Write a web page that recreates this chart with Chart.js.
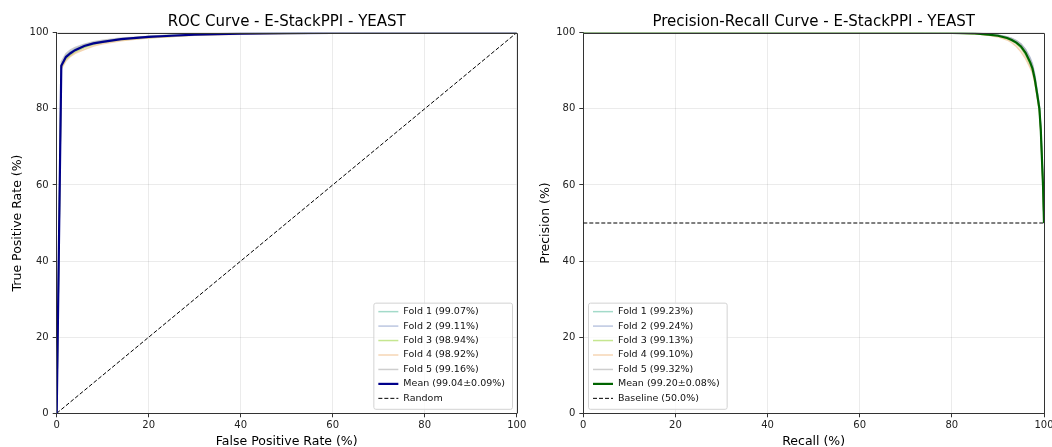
<!DOCTYPE html>
<html>
<head>
<meta charset="utf-8">
<script src="https://cdn.jsdelivr.net/npm/chart.js@4.4.1/dist/chart.umd.min.js"></script>
<style>
  html, body { margin: 0; padding: 0; background: #fff; overflow: hidden; }
  .panel { position: absolute; top: 0; width: 526px; height: 447px; }
</style>
</head>
<body>
<div class="panel" style="left:0"><canvas id="roc" width="526" height="447"></canvas></div>
<div class="panel" style="left:526px"><canvas id="pr" width="526" height="447"></canvas></div>
<script>
// ROC data (%), all folds read on a shared FPR grid
const rocFpr   = [0, 1, 2, 3, 4, 6, 8, 10, 14, 18, 20, 25, 30, 40, 50, 60, 80, 100];
const rocFold1 = [0, 91.0, 93.9, 94.9, 95.6, 96.6, 97.3, 97.7, 98.4, 98.8, 99.0, 99.3, 99.5, 99.8, 99.9, 99.95, 100, 100];
const rocFold2 = [0, 91.5, 94.0, 95.0, 95.7, 96.8, 97.4, 97.8, 98.4, 98.8, 99.0, 99.3, 99.6, 99.8, 99.9, 100, 100, 100];
const rocFold3 = [0, 90.8, 93.0, 94.1, 94.9, 96.1, 96.9, 97.4, 98.1, 98.5, 98.7, 99.0, 99.4, 99.7, 99.8, 99.9, 100, 100];
const rocFold4 = [0, 90.5, 92.6, 93.8, 94.6, 95.6, 96.5, 97.1, 97.9, 98.4, 98.6, 99.0, 99.3, 99.6, 99.8, 99.9, 100, 100];
const rocFold5 = [0, 92.4, 94.5, 95.5, 96.1, 97.0, 97.6, 98.0, 98.6, 98.9, 99.1, 99.4, 99.6, 99.8, 99.9, 100, 100, 100];
const rocMean  = [0, 91.3, 93.6, 94.6, 95.4, 96.5, 97.2, 97.6, 98.3, 98.7, 98.9, 99.2, 99.5, 99.75, 99.85, 99.95, 100, 100];
const rocUpper = [0, 92.2, 94.4, 95.4, 96.1, 97.0, 97.6, 98.0, 98.6, 99.0, 99.2, 99.4, 99.7, 99.9, 100, 100, 100, 100];
const rocLower = [0, 90.4, 92.8, 93.8, 94.7, 96.0, 96.8, 97.2, 98.0, 98.4, 98.6, 99.0, 99.3, 99.6, 99.7, 99.9, 100, 100];
const randomX  = [0, 100];
const randomY  = [0, 100];

// PR data (%)
const prRecall = [0, 10, 20, 30, 40, 50, 60, 70, 80, 85, 88, 90, 92, 93, 94, 95, 96, 97, 97.5, 98, 98.5, 99, 99.3, 99.6, 99.8, 100];
const prFold1  = [100, 100, 100, 100, 100, 100, 100, 100, 99.95, 99.8, 99.5, 99.3, 98.7, 98.2, 97.5, 96.5, 94.9, 92.4, 90.8, 88.0, 84.2, 80.2, 74.8, 65.8, 59.8, 50];
const prFold2  = [100, 100, 100, 100, 100, 100, 100, 100, 100, 99.85, 99.6, 99.4, 98.9, 98.5, 97.9, 97.0, 95.6, 93.4, 91.8, 89.0, 85.0, 80.8, 75.2, 66.0, 60.0, 50];
const prFold3  = [100, 100, 100, 100, 100, 100, 100, 100, 99.9, 99.75, 99.4, 99.1, 98.4, 97.9, 97.2, 96.0, 94.2, 91.6, 90.0, 87.2, 83.5, 79.6, 74.0, 65.0, 59.0, 50];
const prFold4  = [100, 100, 100, 100, 100, 100, 100, 100, 99.9, 99.7, 99.3, 98.9, 98.1, 97.4, 96.4, 95.0, 93.2, 90.8, 89.4, 86.8, 83.2, 79.4, 74.0, 65.0, 59.2, 50];
const prFold5  = [100, 100, 100, 100, 100, 100, 100, 100, 100, 99.9, 99.7, 99.4, 98.9, 98.5, 97.9, 97.0, 95.5, 93.0, 91.4, 88.5, 84.6, 80.6, 75.0, 66.0, 60.0, 50];
const prMean   = [100, 100, 100, 100, 100, 100, 100, 100, 99.95, 99.8, 99.5, 99.2, 98.6, 98.1, 97.4, 96.4, 94.7, 92.2, 90.6, 87.8, 84.0, 80.0, 74.5, 65.5, 59.5, 50];
const prUpper  = [100, 100, 100, 100, 100, 100, 100, 100, 100, 99.95, 99.75, 99.5, 99.0, 98.6, 98.0, 97.3, 95.9, 93.7, 92.0, 89.2, 85.2, 81.0, 75.6, 66.5, 60.5, 50];
const prLower  = [100, 100, 100, 100, 100, 100, 100, 100, 99.9, 99.65, 99.25, 98.9, 98.2, 97.6, 96.8, 95.5, 93.5, 90.7, 89.2, 86.4, 82.8, 79.0, 73.4, 64.5, 58.5, 50];
const baselineX = [0, 100];
const baselineY = [50, 50];

const rocLabels = ['Fold 1 (99.07%)', 'Fold 2 (99.11%)', 'Fold 3 (98.94%)', 'Fold 4 (98.92%)', 'Fold 5 (99.16%)', 'Mean (99.04\u00b10.09%)', 'Random'];
const prLabels  = ['Fold 1 (99.23%)', 'Fold 2 (99.24%)', 'Fold 3 (99.13%)', 'Fold 4 (99.10%)', 'Fold 5 (99.32%)', 'Mean (99.20\u00b10.08%)', 'Baseline (50.0%)'];
const tickValues = [0, 20, 40, 60, 80, 100];

const foldColors = ['rgba(102,194,165,0.6)', 'rgba(141,160,203,0.6)', 'rgba(166,216,84,0.65)', 'rgba(240,190,140,0.65)', 'rgba(179,179,179,0.65)'];
const FONT = "'DejaVu Sans', sans-serif";

function pts(xs, ys) {
  return xs.map((x, i) => ({ x: x, y: ys[i] }));
}

// legend drawn inside the plot area, matplotlib style
const innerLegend = {
  id: 'innerLegend',
  afterDraw(chart, args, opts) {
    const ctx = chart.ctx;
    const area = chart.chartArea;
    const items = chart.data.datasets.filter(d => d.label);
    const rowH = 14.45;
    ctx.save();
    ctx.font = '9.5px ' + FONT;
    let textW = 0;
    items.forEach(d => { textW = Math.max(textW, ctx.measureText(d.label).width); });
    const w = 30 + textW + 7;
    const h = rowH * items.length + 5;
    const left = opts.side === 'right' ? area.right - 4.7 - w : area.left + 4.7;
    const top = area.bottom - 4.5 - h;
    ctx.fillStyle = 'rgba(255,255,255,0.8)';
    ctx.strokeStyle = '#d3d3d3';
    ctx.lineWidth = 1;
    ctx.beginPath();
    ctx.roundRect(left + 0.5, top + 0.5, w, h, 2);
    ctx.fill();
    ctx.stroke();
    items.forEach((d, i) => {
      const y = top + 9 + i * rowH;
      ctx.beginPath();
      ctx.setLineDash(d.borderDash || []);
      ctx.strokeStyle = d.borderColor;
      ctx.lineWidth = d.borderWidth;
      ctx.moveTo(left + 5, y);
      ctx.lineTo(left + 25, y);
      ctx.stroke();
      ctx.setLineDash([]);
      ctx.fillStyle = '#111';
      ctx.textBaseline = 'middle';
      ctx.textAlign = 'left';
      ctx.fillText(d.label, left + 30, y);
    });
    ctx.restore();
  }
};

// top and right spines
const boxFrame = {
  id: 'boxFrame',
  afterDatasetsDraw(chart) {
    const ctx = chart.ctx;
    const a = chart.chartArea;
    ctx.save();
    ctx.strokeStyle = '#333';
    ctx.lineWidth = 1;
    ctx.beginPath();
    ctx.moveTo(Math.round(a.left) + 0.5, Math.round(a.top) + 0.5);
    ctx.lineTo(Math.round(a.right) + 0.5, Math.round(a.top) + 0.5);
    ctx.lineTo(Math.round(a.right) + 0.5, Math.round(a.bottom) + 0.5);
    ctx.stroke();
    ctx.restore();
  }
};

function buildChart(id, cfg) {
  const folds = cfg.folds.map((f, i) => ({
    label: cfg.labels[i],
    data: pts(cfg.x, f),
    borderColor: foldColors[i],
    borderWidth: 1.5,
    order: 5 - i
  }));
  const datasets = folds.concat([
    { label: cfg.labels[5], data: pts(cfg.x, cfg.mean), borderColor: cfg.meanColor, borderWidth: 2.2, order: 0 },
    { label: cfg.labels[6], data: pts(cfg.refX, cfg.refY), borderColor: '#000', borderWidth: 1, borderDash: [4, 2], order: 1 },
    { data: pts(cfg.x, cfg.upper), borderWidth: 0, borderColor: 'rgba(0,0,0,0)', backgroundColor: 'rgba(128,128,128,0.22)', fill: '+1', order: 10 },
    { data: pts(cfg.x, cfg.lower), borderWidth: 0, borderColor: 'rgba(0,0,0,0)', order: 11 }
  ]);

  return new Chart(document.getElementById(id), {
    type: 'line',
    data: { datasets: datasets },
    options: {
      responsive: false,
      animation: false,
      devicePixelRatio: 1,
      layout: { padding: { left: 0, right: cfg.padRight, top: 0, bottom: 0 } },
      elements: { point: { radius: 0 }, line: { tension: 0 } },
      plugins: {
        legend: { display: false },
        tooltip: { enabled: false },
        title: {
          display: true,
          text: cfg.title,
          fullSize: false,
          color: '#000',
          font: { family: FONT, size: 15, weight: 'normal' },
          padding: { top: 13, bottom: 1.7 }
        },
        innerLegend: { side: cfg.legendSide }
      },
      scales: {
        x: {
          type: 'linear', min: 0, max: 100,
          afterBuildTicks: s => { s.ticks = tickValues.map(v => ({ value: v })); },
          afterFit: s => { s.height = 33.7; s.paddingLeft = 0; s.paddingRight = 0; },
          ticks: { color: '#222', padding: 2, font: { family: FONT, size: 10 } },
          grid: { color: 'rgba(0,0,0,0.08)', tickColor: '#333', tickLength: 4 },
          border: { color: '#333', width: 1 },
          title: { display: true, text: cfg.xTitle, color: '#000', font: { family: FONT, size: 12.5 }, padding: { top: 0, bottom: -1.8 } }
        },
        y: {
          type: 'linear', min: 0, max: 100,
          afterBuildTicks: s => { s.ticks = tickValues.map(v => ({ value: v })); },
          afterFit: s => { s.width = cfg.yWidth; s.paddingTop = 0; s.paddingBottom = 0; },
          ticks: { color: '#222', padding: 4, font: { family: FONT, size: 10 } },
          grid: { color: 'rgba(0,0,0,0.08)', tickColor: '#333', tickLength: 4 },
          border: { color: '#333', width: 1 },
          title: { display: true, text: cfg.yTitle, color: '#000', font: { family: FONT, size: 12.5 }, padding: { top: cfg.yTitlePad, bottom: 0 } }
        }
      }
    },
    plugins: [boxFrame, innerLegend]
  });
}

buildChart('roc', {
  title: 'ROC Curve - E-StackPPI - YEAST',
  xTitle: 'False Positive Rate (%)',
  yTitle: 'True Positive Rate (%)',
  x: rocFpr,
  folds: [rocFold1, rocFold2, rocFold3, rocFold4, rocFold5],
  mean: rocMean, upper: rocUpper, lower: rocLower,
  refX: randomX, refY: randomY,
  labels: rocLabels,
  meanColor: '#00008b',
  legendSide: 'right',
  padRight: 9.3, yWidth: 56.7, yTitlePad: 10
});

buildChart('pr', {
  title: 'Precision-Recall Curve - E-StackPPI - YEAST',
  xTitle: 'Recall (%)',
  yTitle: 'Precision (%)',
  x: prRecall,
  folds: [prFold1, prFold2, prFold3, prFold4, prFold5],
  mean: prMean, upper: prUpper, lower: prLower,
  refX: baselineX, refY: baselineY,
  labels: prLabels,
  meanColor: '#006400',
  legendSide: 'left',
  padRight: 8, yWidth: 57.3, yTitlePad: 12
});
</script>
</body>
</html>
